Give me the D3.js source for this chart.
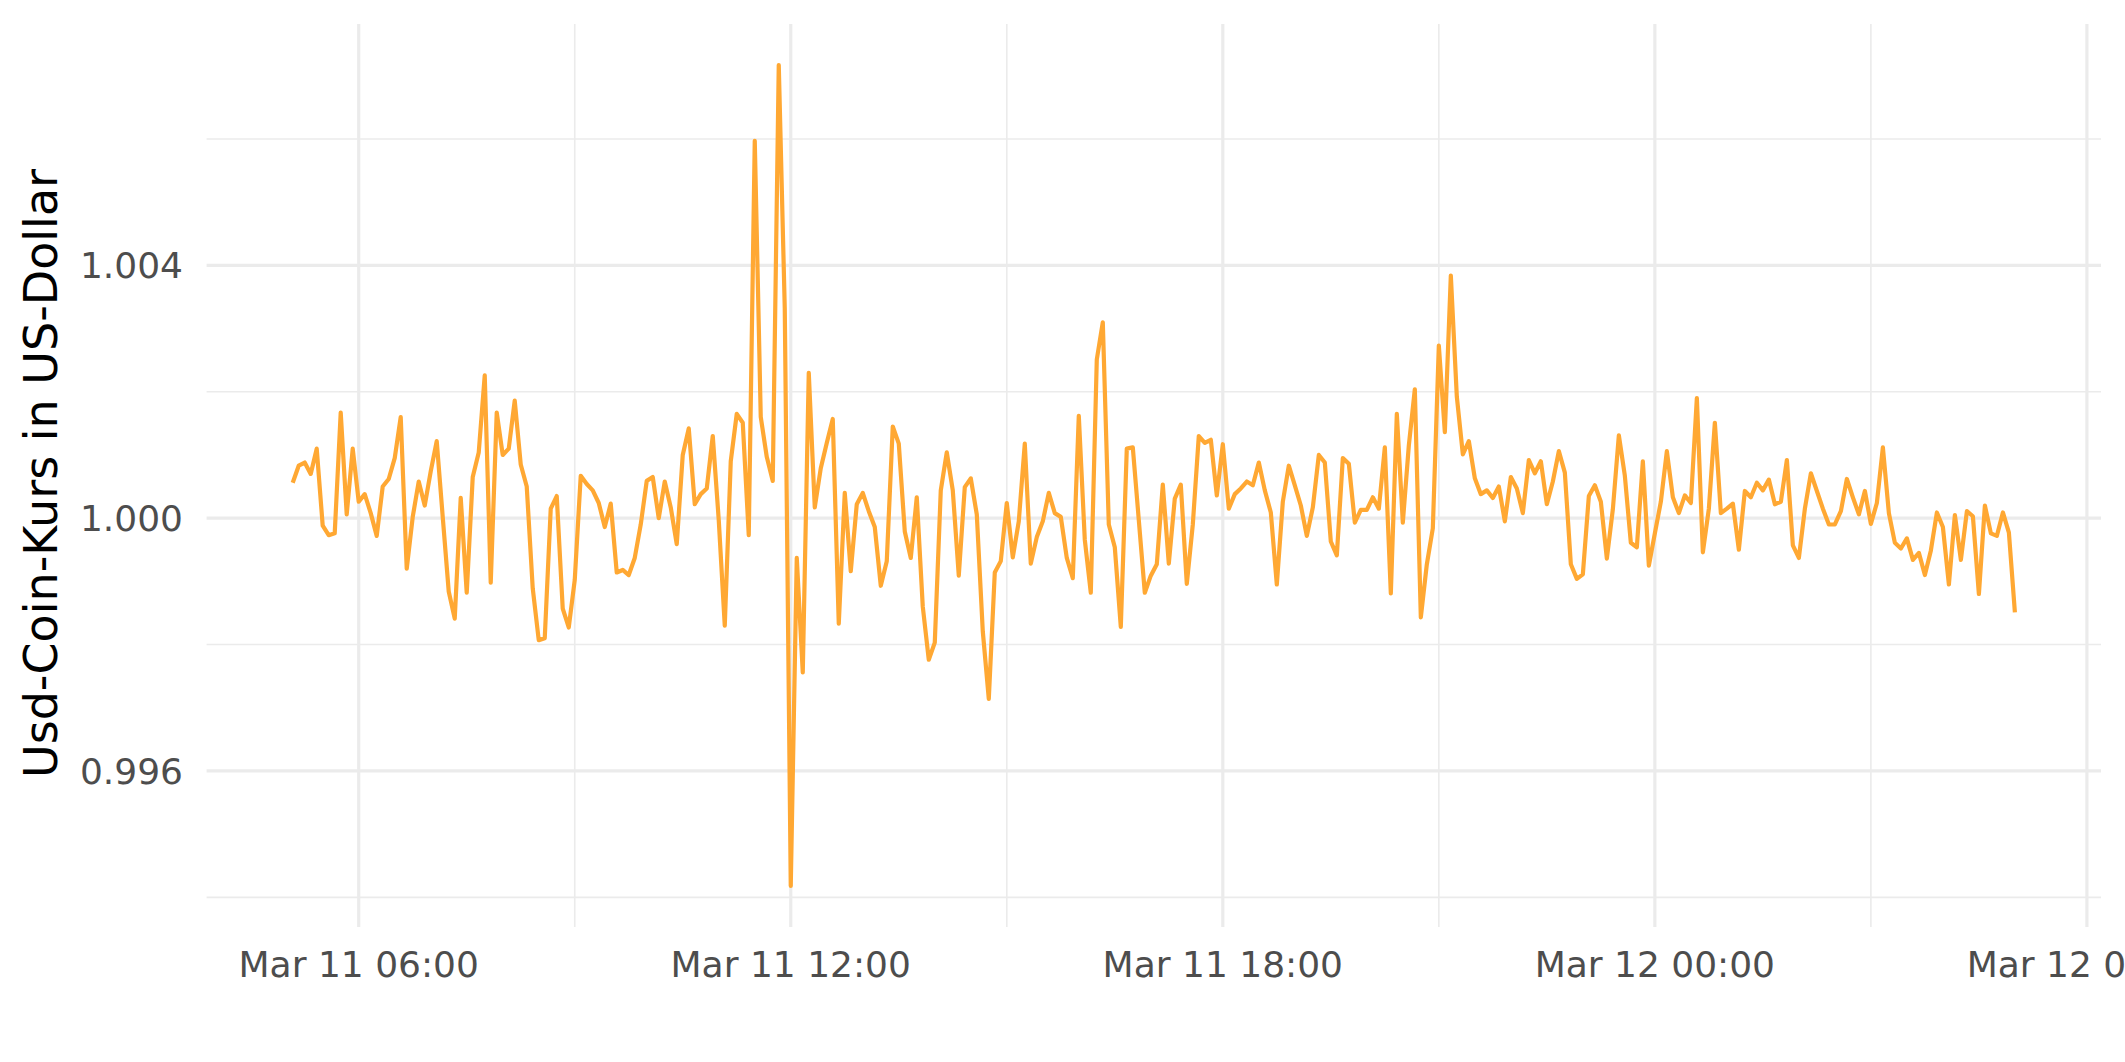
<!DOCTYPE html>
<html>
<head>
<meta charset="utf-8">
<script src="https://cdn.jsdelivr.net/npm/d3@7"></script>
<style>
  html, body { margin: 0; padding: 0; background: #fff; }
  svg { display: block; }
</style>
</head>
<body>
<svg id="chart" width="2125" height="1062"></svg>
<script>
// ---- Data (5-minute USDC prices, Mar 11 05:05 -> Mar 12 05:00) ----
const startTime = "2023-03-11T05:05:00Z";
const stepMinutes = 5;
const prices = [
  1.00056, 1.00083, 1.00088, 1.00070, 1.00110, 0.99988, 0.99973, 0.99976, 1.00167, 1.00006,
  1.00110, 1.00026, 1.00038, 1.00008, 0.99972, 1.00050, 1.00062, 1.00095, 1.00160, 0.99920,
  1.00002, 1.00058, 1.00020, 1.00074, 1.00122, 1.00002, 0.99884, 0.99841, 1.00032, 0.99882,
  1.00065, 1.00104, 1.00226, 0.99898, 1.00167, 1.00100, 1.00110, 1.00186, 1.00085, 1.00050,
  0.99889, 0.99807, 0.99810, 1.00015, 1.00035, 0.99857, 0.99827, 0.99902, 1.00067, 1.00054,
  1.00044, 1.00024, 0.99986, 1.00023, 0.99914, 0.99918, 0.99910, 0.99937, 0.99990, 1.00059,
  1.00065, 1.00000, 1.00058, 1.00017, 0.99959, 1.00100, 1.00142, 1.00022, 1.00038, 1.00047,
  1.00130, 0.99997, 0.99830, 1.00090, 1.00165, 1.00151, 0.99973, 1.00597, 1.00160, 1.00097,
  1.00059, 1.00717, 1.00332, 0.99418, 0.99937, 0.99756, 1.00230, 1.00017, 1.00079, 1.00119,
  1.00157, 0.99833, 1.00040, 0.99916, 1.00022, 1.00040, 1.00011, 0.99986, 0.99893, 0.99932,
  1.00145, 1.00118, 0.99979, 0.99937, 1.00033, 0.99860, 0.99776, 0.99803, 1.00044, 1.00104,
  1.00044, 0.99909, 1.00049, 1.00063, 1.00006, 0.99821, 0.99714, 0.99914, 0.99932, 1.00024,
  0.99938, 0.99995, 1.00118, 0.99928, 0.99970, 0.99995, 1.00040, 1.00008, 1.00002, 0.99937,
  0.99905, 1.00162, 0.99966, 0.99882, 1.00251, 1.00310, 0.99990, 0.99954, 0.99828, 1.00110,
  1.00112, 0.99997, 0.99882, 0.99909, 0.99927, 1.00053, 0.99928, 1.00031, 1.00053, 0.99896,
  0.99990, 1.00130, 1.00119, 1.00124, 1.00036, 1.00117, 1.00015, 1.00038, 1.00047, 1.00058,
  1.00052, 1.00088, 1.00044, 1.00009, 0.99895, 1.00026, 1.00083, 1.00052, 1.00020, 0.99972,
  1.00017, 1.00100, 1.00088, 0.99963, 0.99941, 1.00095, 1.00086, 0.99993, 1.00013, 1.00013,
  1.00033, 1.00015, 1.00112, 0.99881, 1.00165, 0.99993, 1.00115, 1.00204, 0.99843, 0.99927,
  0.99984, 1.00273, 1.00136, 1.00384, 1.00192, 1.00101, 1.00122, 1.00063, 1.00038, 1.00044,
  1.00032, 1.00050, 0.99995, 1.00065, 1.00047, 1.00008, 1.00092, 1.00071, 1.00090, 1.00022,
  1.00058, 1.00106, 1.00072, 0.99927, 0.99904, 0.99911, 1.00035, 1.00052, 1.00026, 0.99936,
  1.00014, 1.00131, 1.00067, 0.99961, 0.99954, 1.00090, 0.99925, 0.99976, 1.00026, 1.00106,
  1.00033, 1.00008, 1.00036, 1.00024, 1.00190, 0.99946, 1.00015, 1.00151, 1.00008, 1.00015,
  1.00023, 0.99950, 1.00043, 1.00033, 1.00056, 1.00044, 1.00061, 1.00022, 1.00026, 1.00092,
  0.99957, 0.99937, 1.00015, 1.00071, 1.00043, 1.00015, 0.99990, 0.99990, 1.00011, 1.00062,
  1.00033, 1.00006, 1.00043, 0.99991, 1.00024, 1.00112, 1.00008, 0.99961, 0.99952, 0.99968,
  0.99934, 0.99945, 0.99910, 0.99949, 1.00009, 0.99986, 0.99895, 1.00005, 0.99934, 1.00011,
  1.00003, 0.99880, 1.00020, 0.99976, 0.99972, 1.00009, 0.99977, 0.99851
];
const xMajorTicks = ["2023-03-11T06:00:00Z", "2023-03-11T12:00:00Z", "2023-03-11T18:00:00Z", "2023-03-12T00:00:00Z", "2023-03-12T06:00:00Z"];
const xMinorTicks = ["2023-03-11T09:00:00Z", "2023-03-11T15:00:00Z", "2023-03-11T21:00:00Z", "2023-03-12T03:00:00Z"];
const yMajorTicks = [0.996, 1.000, 1.004];
const yMinorTicks = [0.994, 0.998, 1.002, 1.006];
const yTitle = "Usd-Coin-Kurs in US-Dollar";

// ---- Build ----
const t0 = new Date(startTime);
const data = prices.map((v, i) => ({ t: new Date(t0.getTime() + i * stepMinutes * 60000), v }));

const svg = d3.select("#chart");
const panel = { left: 206.6, right: 2101, top: 24, bottom: 927 };

// ggplot-like 5% expansion
const tExt = d3.extent(data, d => d.t);
const tPad = (tExt[1] - tExt[0]) * 0.05;
const vExt = d3.extent(data, d => d.v);
const vPad = (vExt[1] - vExt[0]) * 0.05;

const x = d3.scaleUtc()
  .domain([new Date(+tExt[0] - tPad), new Date(+tExt[1] + tPad)])
  .range([panel.left, panel.right]);
const y = d3.scaleLinear()
  .domain([vExt[0] - vPad, vExt[1] + vPad])
  .range([panel.bottom, panel.top]);

const grid = svg.append("g");
const gridColor = "#EBEBEB";

// minor gridlines
grid.selectAll("line.ymin").data(yMinorTicks).join("line")
  .attr("x1", panel.left).attr("x2", panel.right)
  .attr("y1", d => y(d)).attr("y2", d => y(d))
  .attr("stroke", gridColor).attr("stroke-width", 1.6);
grid.selectAll("line.xmin").data(xMinorTicks.map(s => new Date(s))).join("line")
  .attr("y1", panel.top).attr("y2", panel.bottom)
  .attr("x1", d => x(d)).attr("x2", d => x(d))
  .attr("stroke", gridColor).attr("stroke-width", 1.6);

// major gridlines
grid.selectAll("line.ymaj").data(yMajorTicks).join("line")
  .attr("x1", panel.left).attr("x2", panel.right)
  .attr("y1", d => y(d)).attr("y2", d => y(d))
  .attr("stroke", gridColor).attr("stroke-width", 3.2);
const xMaj = xMajorTicks.map(s => new Date(s));
grid.selectAll("line.xmaj").data(xMaj).join("line")
  .attr("y1", panel.top).attr("y2", panel.bottom)
  .attr("x1", d => x(d)).attr("x2", d => x(d))
  .attr("stroke", gridColor).attr("stroke-width", 3.2);

// line
const line = d3.line().x(d => x(d.t)).y(d => y(d.v));
svg.append("path").datum(data)
  .attr("d", line)
  .attr("fill", "none")
  .attr("stroke", "#FFA833")
  .attr("stroke-width", 4.2)
  .attr("stroke-linejoin", "round")
  .attr("stroke-linecap", "butt");

// axes labels
const font = "'DejaVu Sans', sans-serif";
const fmtT = d3.utcFormat("%b %d %H:%M");
svg.append("g").selectAll("text").data(xMaj).join("text")
  .attr("x", d => x(d)).attr("y", 977)
  .attr("text-anchor", "middle")
  .attr("font-family", font).attr("font-size", 36)
  .attr("fill", "#4D4D4D")
  .text(d => fmtT(d));

const fmtY = d3.format(".3f");
svg.append("g").selectAll("text").data(yMajorTicks).join("text")
  .attr("x", 183).attr("y", d => y(d))
  .attr("dy", "0.36em")
  .attr("text-anchor", "end")
  .attr("font-family", font).attr("font-size", 36)
  .attr("fill", "#4D4D4D")
  .text(d => fmtY(d));

svg.append("text")
  .attr("transform", `translate(57, 473.5) rotate(-90)`)
  .attr("text-anchor", "middle")
  .attr("font-family", font).attr("font-size", 46)
  .attr("fill", "#000")
  .text(yTitle);
</script>
</body>
</html>
